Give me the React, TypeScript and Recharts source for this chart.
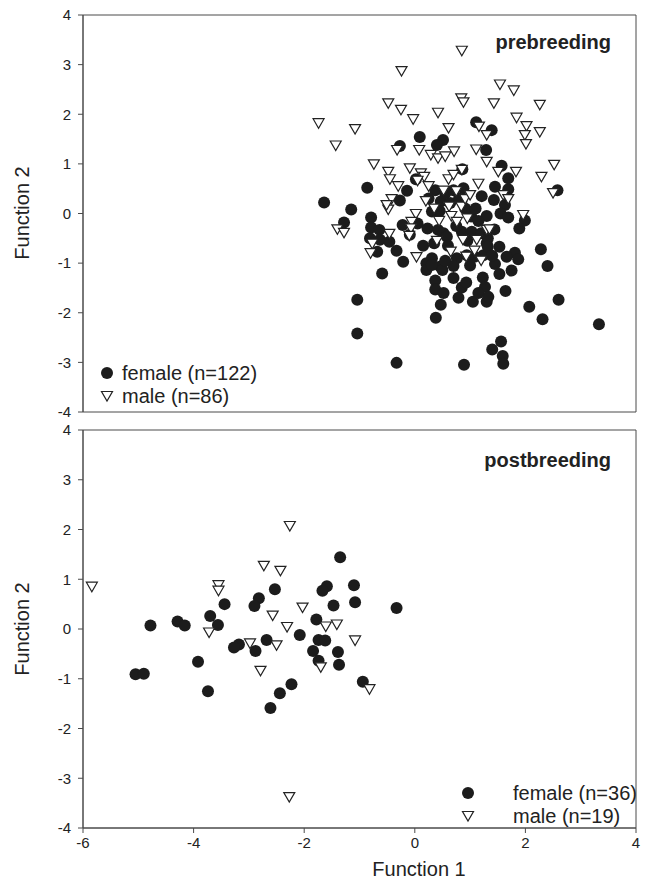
import React from 'react';
import { ReferenceArea, Scatter, ScatterChart, XAxis, YAxis } from 'recharts';

type Pt = { x: number; y: number };
const pts = (arr: number[][]): Pt[] => arr.map(([x, y]) => ({ x, y }));

// prebreeding, females (n=122)
const preFemale = pts([
    [1.11, 1.84], [0.09, 1.54], [-0.27, 1.36], [0.51, 1.48], [0.4, 1.38], [1.39, 1.68],
    [-1.64, 0.22], [-1.15, 0.08], [-0.86, 0.52], [-1.28, -0.18], [-0.79, -0.08], [-0.79, -0.28],
    [-0.64, -0.33], [-0.27, 0.26], [-0.14, 0.46], [-0.22, -0.23], [-0.09, -0.43], [0.23, -0.3],
    [0.31, 0.04], [-0.63, -0.53], [-0.46, -0.57], [-0.33, -0.75], [-0.68, -0.77], [-0.21, -0.97],
    [0.37, 0.47], [0.47, 0.24], [0.55, 0.41], [0.7, 0.47], [0.88, 0.51], [0.64, 0.21],
    [0.42, -0.33], [0.52, -0.4], [0.58, -0.47], [0.85, -0.37], [1.03, -0.37], [1.02, -0.06],
    [0.91, 0.1], [1.21, 0.35], [1.29, 1.28], [0.02, 0.69], [0.31, -0.9], [0.21, -1.0],
    [0.46, -1.07], [0.76, -0.9], [0.94, -0.84], [1.24, -0.84], [1.3, -0.6], [-0.81, -0.5],
    [1.57, 0.96], [1.69, 0.71], [1.45, 0.54], [1.69, 0.49], [1.43, 0.27], [1.63, 0.17],
    [1.55, 0.0], [1.69, -0.08], [1.3, -0.05], [1.99, -0.14], [1.89, -0.3], [1.44, -0.32],
    [1.32, -0.5], [1.32, -0.67], [1.53, -0.67], [1.81, -0.79], [1.66, -0.87], [1.87, -0.92],
    [1.45, -1.02], [2.28, -0.72], [2.4, -1.06], [2.58, 0.47], [1.08, -0.87], [0.86, 0.89],
    [-0.59, -1.21], [0.21, -1.14], [0.31, -1.04], [0.5, -1.14], [0.7, -1.06], [0.37, -1.35],
    [0.37, -1.53], [0.52, -1.6], [0.47, -1.84], [0.38, -2.1], [0.79, -1.7], [0.85, -1.49],
    [0.93, -1.39], [1.05, -1.78], [1.23, -1.29], [1.27, -1.48], [1.15, -1.6], [1.3, -1.78],
    [-1.04, -1.74], [-1.04, -2.42], [-0.33, -3.01], [0.89, -3.05],
    [1.53, -1.22], [1.75, -1.15], [1.33, -1.68], [1.64, -1.56], [2.07, -1.88], [2.6, -1.74],
    [2.31, -2.13], [3.33, -2.23], [1.56, -2.58], [1.4, -2.74], [1.59, -2.87], [1.6, -3.03],
    [0.25, 0.3], [0.45, 0.05], [0.75, -0.25], [0.95, -0.55], [1.15, -0.15], [0.6, -0.65],
    [1.1, 0.1], [0.15, -0.65], [0.8, 0.3], [1.2, -0.4], [0.35, -0.6], [1.0, -1.05],
    [0.55, -0.95], [1.4, -0.85], [0.05, -0.2], [0.7, -1.3],
]);

// prebreeding, males (n=86)
const preMale = pts([
    [0.85, 3.28], [-0.24, 2.87], [-0.48, 2.22], [-0.25, 2.09], [-0.03, 1.9], [0.42, 2.03],
    [0.84, 2.32], [0.88, 2.24], [-1.74, 1.82], [-1.08, 1.7], [0.61, 1.72], [1.16, 1.75],
    [1.3, 1.58], [-1.43, 1.37], [1.54, 2.6], [1.79, 2.48], [1.43, 2.22], [2.26, 2.19],
    [1.84, 1.93], [2.02, 1.76], [2.26, 1.64], [1.99, 1.58], [2.01, 1.4],
    [-0.74, 0.99], [-0.48, 0.84], [-0.45, 0.69], [-0.09, 0.91], [0.11, 0.81], [0.17, 0.74],
    [0.05, 0.66], [-0.32, 1.28], [0.08, 1.28], [0.29, 1.18], [0.42, 1.11], [0.55, 1.15],
    [0.71, 1.25], [0.61, 0.69], [0.7, 0.78], [0.85, 0.88], [1.11, 1.29], [1.3, 1.04],
    [0.52, 0.46], [-0.42, 0.29], [-0.48, 0.08], [-0.51, 0.17], [-1.4, -0.32], [-1.28, -0.39],
    [0.02, -0.01], [-0.06, -0.17], [-0.07, -0.3], [-0.1, -0.45], [-0.46, -0.41], [-0.77, -0.61],
    [-0.8, -0.8], [0.03, -0.88], [0.35, 0.1], [0.44, -0.15], [0.62, 0.14], [0.66, -0.05],
    [0.76, -0.17], [0.84, 0.14], [0.91, 0.29], [1.0, 0.37], [0.65, -0.77], [0.87, -0.53],
    [1.12, -0.53], [1.08, -0.75], [1.3, -0.33],
    [1.51, 0.84], [1.83, 0.84], [2.29, 0.74], [2.52, 0.98], [2.5, 0.41], [1.6, 0.37],
    [1.69, 0.29], [1.96, -0.03], [1.35, -0.32], [0.93, -0.87],
    [0.25, 0.55], [0.95, -0.1], [0.4, -0.55], [1.15, 0.6], [0.2, 0.25], [0.75, 0.45],
    [1.2, -0.95], [-0.3, 0.55],
]);

// postbreeding, females (n=36)
const postFemale = pts([
    [-1.35, 1.44], [-1.1, 0.88], [-1.59, 0.86], [-1.67, 0.77], [-2.53, 0.8], [-0.33, 0.42],
    [-1.08, 0.54], [-1.47, 0.47], [-2.82, 0.62], [-2.9, 0.46], [-3.44, 0.5], [-3.7, 0.26],
    [-3.56, 0.08], [-4.29, 0.15], [-4.16, 0.07], [-4.78, 0.07], [-1.78, 0.19], [-2.08, -0.12],
    [-2.68, -0.22], [-3.18, -0.31], [-3.27, -0.37], [-2.88, -0.44], [-1.74, -0.22], [-1.62, -0.23],
    [-1.84, -0.44], [-1.39, -0.46], [-1.74, -0.64], [-1.37, -0.72], [-3.92, -0.66], [-5.05, -0.91],
    [-4.9, -0.9], [-0.94, -1.06], [-2.23, -1.11], [-2.44, -1.29], [-3.74, -1.25], [-2.61, -1.59],
]);

// postbreeding, males (n=19)
const postMale = pts([
    [-2.26, 2.07], [-5.84, 0.85], [-2.73, 1.27], [-2.43, 1.17], [-3.55, 0.88], [-3.55, 0.77],
    [-2.03, 0.43], [-2.57, 0.27], [-3.72, -0.07], [-2.31, 0.04], [-1.61, 0.05], [-1.41, 0.09],
    [-2.98, -0.29], [-2.5, -0.33], [-1.08, -0.23], [-2.79, -0.84], [-1.7, -0.77], [-0.82, -1.21],
    [-2.27, -3.38],
]);

const yTicks = [-4, -3, -2, -1, 0, 1, 2, 3, 4];
const xTicks = [-6, -4, -2, 0, 2, 4];

const FONT = '"Liberation Sans", Arial, sans-serif';
const AXIS = '#4a4a4a';
const DOT = '#1c1c1c';

const Dot = (p: any) => <circle cx={p.cx} cy={p.cy} r={6} fill={DOT} />;
const Tri = (p: any) => (
    <polygon
        points={`${p.cx - 5.5},${p.cy - 4.5} ${p.cx + 5.5},${p.cy - 4.5} ${p.cx},${p.cy + 5}`}
        fill="#fff"
        stroke="#222"
        strokeWidth={1.2}
    />
);

const tickStyle = { fill: '#222', fontSize: 15, fontFamily: FONT };

const Panel = ({ female, male, top, height, showX }: any) => (
    <div style={{ position: 'absolute', left: 0, top: 0 }}>
        <ScatterChart
            width={645}
            height={height}
            margin={{ top, right: 9, bottom: showX ? 30 : 13, left: 43 }}
        >
            <XAxis
                type="number"
                dataKey="x"
                domain={[-6, 4]}
                ticks={xTicks}
                hide={!showX}
                height={30}
                tick={tickStyle}
                tickSize={5}
                tickMargin={4}
                stroke={AXIS}
                allowDataOverflow
            />
            <YAxis
                type="number"
                dataKey="y"
                domain={[-4, 4]}
                ticks={yTicks}
                width={40}
                tick={tickStyle}
                tickSize={5}
                tickMargin={7}
                stroke={AXIS}
                allowDataOverflow
            />
            <ReferenceArea x1={-6} x2={4} y1={-4} y2={4} fill="none" stroke={AXIS} strokeWidth={1} ifOverflow="visible" />
            <Scatter data={female} shape={Dot} isAnimationActive={false} />
            <Scatter data={male} shape={Tri} isAnimationActive={false} />
        </ScatterChart>
    </div>
);

const LegendDot = ({ x, y }: any) => <circle cx={x} cy={y} r={6} fill={DOT} />;
const LegendTri = ({ x, y }: any) => (
    <polygon points={`${x - 5.5},${y - 4.5} ${x + 5.5},${y - 4.5} ${x},${y + 5}`} fill="#fff" stroke="#222" strokeWidth={1.2} />
);

export default function App() {
    return (
        <div style={{ position: 'absolute', left: 0, top: 0, width: 645, height: 888, background: '#fff' }}>
            <Panel female={preFemale} male={preMale} top={15} height={425} showX={false} />
            <Panel female={postFemale} male={postMale} top={430} height={888} showX />
            <svg width={645} height={888} style={{ position: 'absolute', left: 0, top: 0, pointerEvents: 'none' }}>
                <g fontFamily={FONT} fill="#222">
                    <text x={611} y={49} textAnchor="end" fontSize={20} fontWeight="bold">prebreeding</text>
                    <text x={611} y={467} textAnchor="end" fontSize={20} fontWeight="bold">postbreeding</text>

                    <LegendDot x={107} y={373} />
                    <text x={122} y={380} fontSize={20}>female (n=122)</text>
                    <LegendTri x={107} y={396} />
                    <text x={122} y={403} fontSize={20}>male (n=86)</text>

                    <LegendDot x={468} y={793} />
                    <text x={513} y={800} fontSize={20}>female (n=36)</text>
                    <LegendTri x={468} y={816} />
                    <text x={513} y={823} fontSize={20}>male (n=19)</text>

                    <text x={419} y={876} textAnchor="middle" fontSize={20}>Function 1</text>
                    <text transform="translate(29,213) rotate(-90)" textAnchor="middle" fontSize={20}>Function 2</text>
                    <text transform="translate(29,629) rotate(-90)" textAnchor="middle" fontSize={20}>Function 2</text>
                </g>
            </svg>
        </div>
    );
}
